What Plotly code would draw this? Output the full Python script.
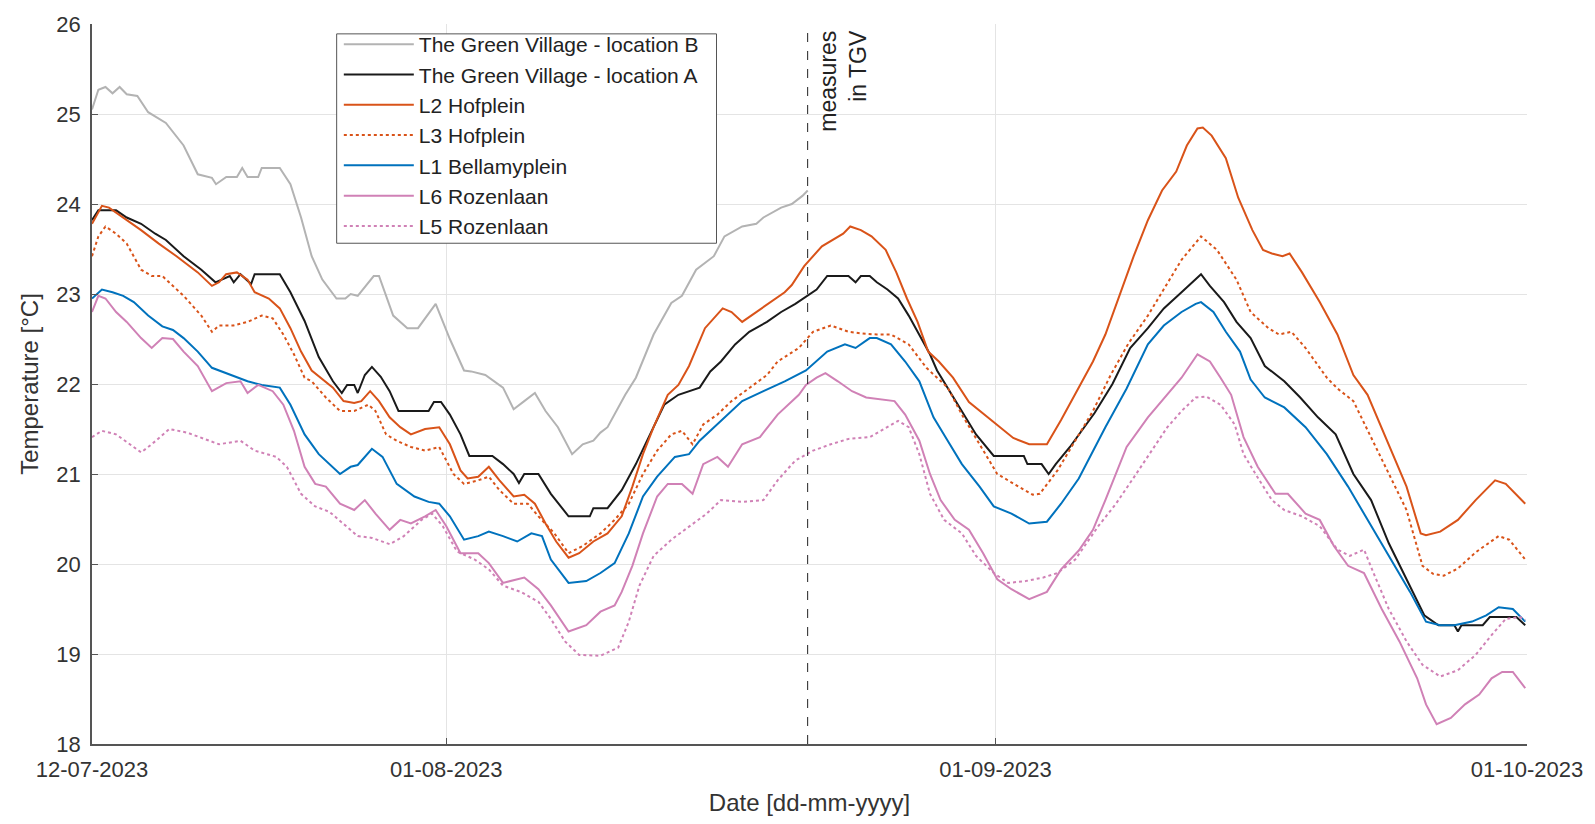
import pandas as pd
import plotly.graph_objects as go

START = pd.Timestamp("2023-07-12")
EVENT_DATE = "2023-08-21 09:30"

# ---- data: (days since 12-07-2023, temperature °C) ----
b_day = [0, 0.36, 0.76, 1.16, 1.56, 1.96, 2.56, 3.17, 4.17, 5.17, 5.97, 6.77, 7.0, 7.58, 8.18, 8.48, 8.78,
         9.38, 9.58, 10.6, 11.2, 11.8, 12.4, 13.0, 13.8, 14.3, 14.6, 15.0, 15.9, 16.2, 17.0, 17.8, 18.4,
         18.8, 19.4, 20.2, 21.0, 21.4, 22.2, 23.2, 23.8, 24.4, 25.0, 25.6, 26.3, 27.1, 27.7, 28.3, 28.7,
         29.1, 30.1, 30.7, 31.7, 32.7, 33.3, 34.1, 35.1, 35.7, 36.7, 37.5, 37.9, 38.9, 39.5, 40.1, 40.4]
b_val = [25.05, 25.27, 25.3, 25.23, 25.3, 25.22, 25.2, 25.02, 24.9, 24.65, 24.33, 24.29, 24.22, 24.3, 24.3,
         24.4, 24.3, 24.3, 24.4, 24.4, 24.22, 23.85, 23.42, 23.16, 22.95, 22.95, 23.0, 22.98, 23.2, 23.2,
         22.76, 22.62, 22.62, 22.73, 22.89, 22.5, 22.15, 22.14, 22.1, 21.96, 21.72, 21.81, 21.9, 21.7,
         21.52, 21.22, 21.33, 21.37, 21.46, 21.52, 21.88, 22.07, 22.55, 22.9, 22.98, 23.27, 23.42, 23.64,
         23.75, 23.78, 23.85, 23.96, 24.0, 24.09, 24.15]

a_day = [0, 0.36, 1.36, 1.96, 2.77, 3.57, 4.17, 5.17, 6.17, 6.97, 7.78, 8.0, 8.38, 8.98, 9.18, 10.6, 11.2,
         12.0, 12.8, 13.6, 14.1, 14.4, 14.8, 15.0, 15.4, 15.8, 16.3, 16.8, 17.3, 19.0, 19.3, 19.7, 20.2,
         20.8, 21.3, 22.6, 23.2, 23.8, 24.1, 24.4, 25.2, 25.9, 26.9, 28.1, 28.3, 29.1, 29.9, 30.7, 31.5,
         32.3, 33.1, 33.7, 34.3, 34.9, 35.5, 36.3, 37.1, 38.1, 38.9, 39.7, 40.4, 40.9, 41.5, 42.7, 43.1,
         43.4, 43.9, 44.3, 44.9, 45.5, 46.1, 46.7, 47.3, 47.7, 48.3, 49.1, 49.9, 50.9, 52.6, 52.8, 53.6,
         54.0, 54.4, 55.2, 56.0, 56.6, 57.6, 58.6, 59.6, 60.5, 61.5, 62.3, 62.6, 63.1, 63.9, 64.6, 65.4,
         66.2, 67.3, 68.2, 69.2, 70.2, 71.2, 72.2, 73.2, 74.2, 75.2, 76.0, 76.9, 77.1, 77.3, 78.5, 78.9,
         80.4, 80.9]
a_val = [23.82, 23.93, 23.93, 23.85, 23.78, 23.67, 23.6, 23.42, 23.27, 23.13, 23.2, 23.13, 23.22, 23.11,
         23.22, 23.22, 23.02, 22.7, 22.3, 22.03, 21.9, 21.99, 21.99, 21.9, 22.1, 22.19, 22.08, 21.92, 21.7,
         21.7, 21.8, 21.8, 21.66, 21.44, 21.2, 21.2, 21.11, 21.0, 20.9, 21.0, 21.0, 20.78, 20.53, 20.53,
         20.62, 20.62, 20.82, 21.11, 21.44, 21.77, 21.88, 21.92, 21.96, 22.14, 22.25, 22.44, 22.58, 22.69,
         22.8, 22.89, 22.98, 23.05, 23.2, 23.2, 23.13, 23.2, 23.2, 23.13, 23.05, 22.95, 22.76, 22.55,
         22.33, 22.15, 21.96, 21.7, 21.44, 21.2, 21.2, 21.11, 21.11, 21.0, 21.11, 21.3, 21.52, 21.68,
         22.0, 22.4, 22.62, 22.84, 23.02, 23.16, 23.22, 23.09, 22.91, 22.69, 22.51, 22.2, 22.03, 21.85,
         21.63, 21.44, 21.0, 20.71, 20.23, 19.83, 19.43, 19.32, 19.32, 19.25, 19.32, 19.32, 19.41, 19.41,
         19.32]

l2_day = [0, 0.56, 0.96, 1.76, 2.77, 3.77, 4.77, 5.97, 6.77, 7.17, 7.57, 8.18, 8.78, 9.18, 9.98, 10.6, 11.2,
          11.8, 12.4, 13.6, 14.2, 14.8, 15.2, 15.7, 16.2, 16.8, 17.4, 18.0, 18.8, 19.6, 20.2, 20.8, 21.2,
          21.8, 22.4, 23.0, 23.8, 24.4, 25.0, 25.6, 26.2, 26.9, 27.5, 28.3, 29.1, 29.9, 30.5, 31.1, 31.7,
          32.5, 33.1, 33.7, 34.6, 35.6, 36.1, 36.7, 37.5, 38.3, 39.1, 39.5, 40.2, 41.2, 41.8, 42.4, 42.8,
          43.4, 44.0, 44.8, 45.4, 46.0, 46.6, 47.2, 47.8, 48.6, 49.5, 50.9, 52.0, 52.9, 53.9, 54.7, 55.7,
          56.5, 57.2, 58.0, 58.8, 59.6, 60.4, 61.2, 61.8, 62.4, 62.7, 63.2, 64.0, 64.7, 65.5, 66.1, 66.6,
          67.2, 67.6, 68.3, 69.3, 70.3, 71.2, 72.0, 73.2, 74.2, 75.0, 75.3, 76.1, 77.1, 78.1, 79.2, 79.8,
          80.9]
l2_val = [23.78, 23.98, 23.96, 23.85, 23.71, 23.56, 23.42, 23.24, 23.09, 23.13, 23.22, 23.24, 23.16, 23.02,
          22.95, 22.84, 22.62, 22.36, 22.15, 21.96, 21.81, 21.79, 21.81, 21.92, 21.81, 21.63, 21.52, 21.44,
          21.5, 21.52, 21.33, 21.04, 20.95, 20.97, 21.08, 20.93, 20.75, 20.77, 20.67, 20.45, 20.25, 20.07,
          20.12, 20.25, 20.34, 20.53, 20.86, 21.22, 21.52, 21.88, 21.99, 22.2, 22.62, 22.84, 22.8, 22.69,
          22.8, 22.91, 23.02, 23.1, 23.31, 23.53, 23.6, 23.67, 23.75, 23.71, 23.64, 23.49, 23.24, 22.95,
          22.69, 22.36, 22.25, 22.07, 21.8, 21.57, 21.4, 21.33, 21.33, 21.6, 21.96, 22.25, 22.55, 22.98,
          23.42, 23.82, 24.15, 24.36, 24.65, 24.84, 24.85, 24.76, 24.51, 24.07, 23.71, 23.49, 23.45, 23.42,
          23.45, 23.24, 22.91, 22.55, 22.1, 21.88, 21.33, 20.86, 20.34, 20.32, 20.36, 20.49, 20.71, 20.93,
          20.89, 20.67]

l3_day = [0, 0.36, 0.76, 1.36, 1.96, 2.77, 3.37, 3.97, 4.57, 5.17, 6.17, 6.77, 7.17, 7.98, 8.78, 9.58, 10.2,
          10.8, 11.4, 12.0, 12.4, 13.2, 14.0, 14.8, 15.6, 16.0, 16.6, 17.2, 18.0, 18.8, 19.6, 20.4, 21.0,
          21.8, 22.4, 23.0, 23.8, 24.6, 25.2, 26.1, 26.9, 27.7, 28.7, 29.5, 30.3, 31.1, 31.9, 32.7, 33.3,
          33.9, 34.5, 35.3, 36.1, 37.1, 38.1, 38.7, 39.9, 40.7, 41.7, 42.7, 43.5, 44.3, 45.1, 46.1, 47.1,
          48.3, 49.1, 50.1, 51.1, 52.3, 53.1, 53.5, 54.5, 55.5, 56.5, 57.5, 58.5, 59.6, 61.5, 62.6, 63.5,
          64.6, 65.4, 66.4, 67.0, 67.7, 68.5, 69.7, 70.3, 71.2, 72.2, 73.2, 74.2, 75.1, 75.7, 76.3, 77.1,
          78.1, 79.4, 80.0, 80.9]
l3_val = [23.42, 23.64, 23.75, 23.67, 23.56, 23.27, 23.2, 23.2, 23.09, 22.98, 22.76, 22.58, 22.65, 22.65,
          22.69, 22.76, 22.73, 22.55, 22.33, 22.07, 22.03, 21.85, 21.7, 21.7, 21.77, 21.7, 21.44, 21.37,
          21.3, 21.26, 21.3, 21.0, 20.89, 20.93, 20.97, 20.82, 20.67, 20.67, 20.53, 20.34, 20.12, 20.2,
          20.34, 20.49, 20.67, 21.0, 21.26, 21.44, 21.48, 21.33, 21.55, 21.66, 21.81, 21.96, 22.1, 22.25,
          22.4, 22.58, 22.65, 22.58, 22.56, 22.55, 22.55, 22.44, 22.18, 21.96, 21.66, 21.33, 21.0, 20.86,
          20.77, 20.78, 21.04, 21.37, 21.7, 22.1, 22.45, 22.76, 23.38, 23.64, 23.49, 23.16, 22.8, 22.62,
          22.55, 22.58, 22.4, 22.07, 21.95, 21.81, 21.41, 21.0, 20.6, 19.98, 19.89, 19.87, 19.95, 20.13,
          20.31, 20.27, 20.05]

l1_day = [0, 0.56, 1.16, 1.76, 2.36, 3.17, 3.97, 4.57, 5.17, 5.97, 6.77, 7.58, 8.78, 9.58, 10.6, 11.2, 12.0,
          12.8, 13.6, 14.0, 14.6, 15.0, 15.8, 16.4, 17.2, 18.2, 19.0, 19.6, 20.2, 21.0, 21.8, 22.4, 23.2,
          24.0, 24.8, 25.4, 25.9, 26.9, 27.9, 28.7, 29.5, 30.3, 31.1, 31.9, 32.9, 33.7, 34.3, 35.5, 36.7,
          37.9, 39.1, 40.3, 41.5, 42.5, 43.1, 43.9, 44.3, 45.1, 45.9, 46.7, 47.5, 48.3, 49.1, 50.1, 50.9,
          51.9, 52.9, 53.9, 54.7, 55.7, 56.5, 57.2, 58.4, 59.6, 60.5, 61.5, 62.3, 62.6, 63.3, 64.0, 64.8,
          65.4, 66.2, 67.3, 68.5, 69.7, 70.9, 72.0, 73.2, 74.4, 75.3, 76.1, 76.9, 77.9, 78.7, 79.4, 80.2,
          80.9]
l1_val = [22.95, 23.05, 23.02, 22.98, 22.91, 22.76, 22.64, 22.6, 22.51, 22.36, 22.18, 22.12, 22.03, 21.99,
          21.96, 21.77, 21.44, 21.22, 21.08, 21.0, 21.08, 21.1, 21.28, 21.19, 20.89, 20.75, 20.69, 20.67,
          20.53, 20.27, 20.31, 20.36, 20.31, 20.25, 20.34, 20.31, 20.05, 19.79, 19.81, 19.9, 20.01, 20.34,
          20.75, 20.97, 21.19, 21.22, 21.37, 21.59, 21.81, 21.92, 22.03, 22.15, 22.36, 22.44, 22.4, 22.51,
          22.51, 22.44, 22.25, 22.03, 21.63, 21.37, 21.11, 20.86, 20.64, 20.56, 20.45, 20.47, 20.67, 20.95,
          21.25, 21.52, 21.95, 22.44, 22.65, 22.8, 22.89, 22.91, 22.8, 22.58, 22.36, 22.05, 21.85, 21.74,
          21.52, 21.22, 20.86, 20.49, 20.09, 19.69, 19.36, 19.32, 19.32, 19.36, 19.43, 19.52, 19.5, 19.36]

l6_day = [0, 0.36, 0.76, 1.36, 1.96, 2.77, 3.37, 3.97, 4.57, 5.17, 5.97, 6.77, 7.58, 8.38, 8.78, 9.38, 10.2,
          10.8, 11.4, 12.0, 12.6, 13.2, 14.0, 14.8, 15.4, 16.0, 16.8, 17.4, 18.0, 18.8, 19.4, 20.0, 20.8,
          21.8, 22.4, 23.2, 24.4, 25.2, 25.9, 26.9, 27.9, 28.7, 29.5, 29.9, 30.5, 31.1, 31.9, 32.5, 33.3,
          33.9, 34.5, 35.3, 35.9, 36.7, 37.7, 38.7, 39.9, 40.3, 40.9, 41.4, 42.1, 42.9, 43.7, 44.5, 45.3,
          45.9, 46.7, 47.3, 47.9, 48.7, 49.5, 50.3, 51.1, 51.9, 52.9, 53.9, 54.7, 55.7, 56.5, 57.2, 58.4,
          59.6, 60.7, 61.5, 62.4, 63.1, 63.7, 64.3, 65.0, 65.8, 66.8, 67.5, 68.5, 69.3, 70.1, 70.9, 71.8,
          72.8, 73.8, 74.8, 75.3, 75.9, 76.7, 77.5, 78.3, 79.0, 79.6, 80.2, 80.9]
l6_val = [22.8, 22.98, 22.95, 22.8, 22.69, 22.51, 22.4, 22.51, 22.5, 22.36, 22.2, 21.92, 22.01, 22.03, 21.9,
          21.99, 21.92, 21.77, 21.48, 21.08, 20.89, 20.86, 20.67, 20.6, 20.71, 20.56, 20.38, 20.49, 20.45,
          20.53, 20.6, 20.42, 20.12, 20.12, 20.01, 19.79, 19.85, 19.72, 19.54, 19.25, 19.32, 19.47, 19.54,
          19.69, 19.98, 20.34, 20.75, 20.89, 20.89, 20.78, 21.11, 21.19, 21.08, 21.33, 21.41, 21.66, 21.88,
          21.99, 22.07, 22.12, 22.03, 21.92, 21.85, 21.83, 21.81, 21.66, 21.37, 21.0, 20.71, 20.49, 20.38,
          20.12, 19.83, 19.72, 19.61, 19.69, 19.94, 20.15, 20.38, 20.71, 21.3, 21.63, 21.88, 22.07, 22.33,
          22.25, 22.07, 21.88, 21.41, 21.08, 20.78, 20.78, 20.56, 20.49, 20.2, 19.98, 19.9, 19.5, 19.14,
          18.73, 18.44, 18.22, 18.29, 18.44, 18.55, 18.73, 18.8, 18.8, 18.62]

l5_day = [0, 0.56, 1.36, 2.16, 2.77, 3.37, 4.37, 5.37, 6.37, 7.17, 8.38, 9.18, 10.4, 11.0, 11.8, 12.6, 13.4,
          14.2, 15.0, 15.8, 16.8, 17.6, 18.6, 19.2, 19.8, 20.6, 21.6, 22.4, 23.2, 24.2, 25.2, 25.9, 26.7,
          27.5, 28.7, 29.7, 30.3, 30.9, 31.7, 32.7, 33.7, 34.7, 35.5, 36.7, 37.9, 38.7, 39.7, 40.7, 41.7,
          42.7, 43.9, 44.9, 45.5, 46.1, 46.7, 47.3, 48.1, 49.1, 49.9, 50.9, 51.7, 52.7, 53.7, 54.5, 55.5,
          56.8, 57.8, 58.8, 59.8, 60.7, 61.5, 62.3, 62.9, 63.7, 64.5, 65.0, 65.8, 66.6, 67.3, 68.3, 69.3,
          70.3, 71.0, 71.8, 72.4, 73.2, 74.2, 75.1, 76.1, 77.1, 78.1, 79.0, 79.8, 80.6, 80.9]
l5_val = [21.41, 21.48, 21.44, 21.33, 21.24, 21.33, 21.5, 21.46, 21.39, 21.33, 21.37, 21.26, 21.19, 21.08,
          20.78, 20.64, 20.58, 20.45, 20.31, 20.29, 20.22, 20.31, 20.49, 20.56, 20.42, 20.14, 20.05, 19.94,
          19.76, 19.69, 19.58, 19.39, 19.14, 18.99, 18.98, 19.07, 19.36, 19.76, 20.09, 20.27, 20.42, 20.56,
          20.71, 20.69, 20.71, 20.93, 21.15, 21.26, 21.33, 21.39, 21.41, 21.52, 21.59, 21.52, 21.22, 20.78,
          20.49, 20.34, 20.09, 19.9, 19.79, 19.81, 19.85, 19.9, 20.05, 20.42, 20.67, 20.96, 21.26, 21.52,
          21.7, 21.85, 21.86, 21.77, 21.55, 21.22, 20.96, 20.71, 20.6, 20.53, 20.42, 20.16, 20.09, 20.16,
          19.87, 19.5, 19.14, 18.88, 18.75, 18.82, 18.99, 19.21, 19.39, 19.41, 19.38]

series_names = ["The Green Village - location B", "The Green Village - location A", "L2 Hofplein",
                "L3 Hofplein", "L1 Bellamyplein", "L6 Rozenlaan", "L5 Rozenlaan"]
series_days = [b_day, a_day, l2_day, l3_day, l1_day, l6_day, l5_day]
series_vals = [b_val, a_val, l2_val, l3_val, l1_val, l6_val, l5_val]
series_colors = ["#b3b3b3", "#1a1a1a", "#D95319", "#D95319", "#0072BD", "#D081B6", "#D081B6"]
series_dash = ["solid", "solid", "solid", "dot", "solid", "solid", "dot"]

x_tickvals = ["2023-07-12", "2023-08-01", "2023-09-01", "2023-10-01"]
x_ticktext = ["12-07-2023", "01-08-2023", "01-09-2023", "01-10-2023"]
y_tickvals = [18, 19, 20, 21, 22, 23, 24, 25, 26]

FONT = "Liberation Sans, Arial, sans-serif"

fig = go.Figure()
for name, d, v, c, dash in zip(series_names, series_days, series_vals, series_colors, series_dash):
    x = START + pd.to_timedelta(d, unit="D")
    fig.add_trace(go.Scatter(x=x, y=v, mode="lines", name=name,
                             line=dict(color=c, width=2, dash=dash)))

# event marker
fig.add_shape(type="line", xref="x", yref="paper", x0=EVENT_DATE, x1=EVENT_DATE, y0=0, y1=1,
              line=dict(color="#222222", width=1, dash="dash"))
fig.add_annotation(x=EVENT_DATE, xref="x", y=1, yref="paper", text="measures<br>in TGV",
                   textangle=-90, showarrow=False, xanchor="left", yanchor="top", align="right",
                   xshift=5, yshift=-4, font=dict(family=FONT, size=23, color="#222222"))

# legend frame (white box with border, drawn above the lines; legend entries sit on top)
fig.add_shape(type="rect", xref="paper", yref="paper", x0=0.1705, x1=0.4352, y0=0.6955, y1=0.9863,
              layer="above", fillcolor="white", line=dict(color="#555555", width=1))

fig.update_layout(
    width=1595, height=824,
    margin=dict(l=92, r=60, t=17, b=78),
    paper_bgcolor="white", plot_bgcolor="white",
    font=dict(family=FONT, size=22, color="#333333"),
    showlegend=True,
    legend=dict(x=0.172, y=1.0, xanchor="left", yanchor="top",
                bgcolor="rgba(0,0,0,0)", borderwidth=0,
                font=dict(family=FONT, size=21, color="#222222"),
                itemwidth=70, tracegroupgap=0),
)
fig.update_xaxes(
    type="date", range=["2023-07-12", "2023-10-01"],
    tickvals=x_tickvals, ticktext=x_ticktext,
    showgrid=True, gridcolor="#e4e4e4", gridwidth=1,
    showline=True, linecolor="#555555", linewidth=1.5,
    ticks="inside", ticklen=6, tickcolor="#555555",
    tickfont=dict(size=22, color="#333333"), ticklabelstandoff=5,
    title=dict(text="Date [dd-mm-yyyy]", font=dict(size=24, color="#333333"), standoff=13),
    zeroline=False,
)
fig.update_yaxes(
    range=[18, 26], tickvals=y_tickvals,
    showgrid=True, gridcolor="#e4e4e4", gridwidth=1,
    showline=True, linecolor="#555555", linewidth=1.5,
    ticks="inside", ticklen=6, tickcolor="#555555",
    tickfont=dict(size=22, color="#333333"), ticklabelstandoff=5,
    title=dict(text="Temperature [°C]", font=dict(size=24, color="#333333"), standoff=11),
    zeroline=False,
)

fig.write_html("out.html", config={"displayModeBar": False},
               post_script="document.body.style.margin='0px';document.body.style.overflow='hidden';")
